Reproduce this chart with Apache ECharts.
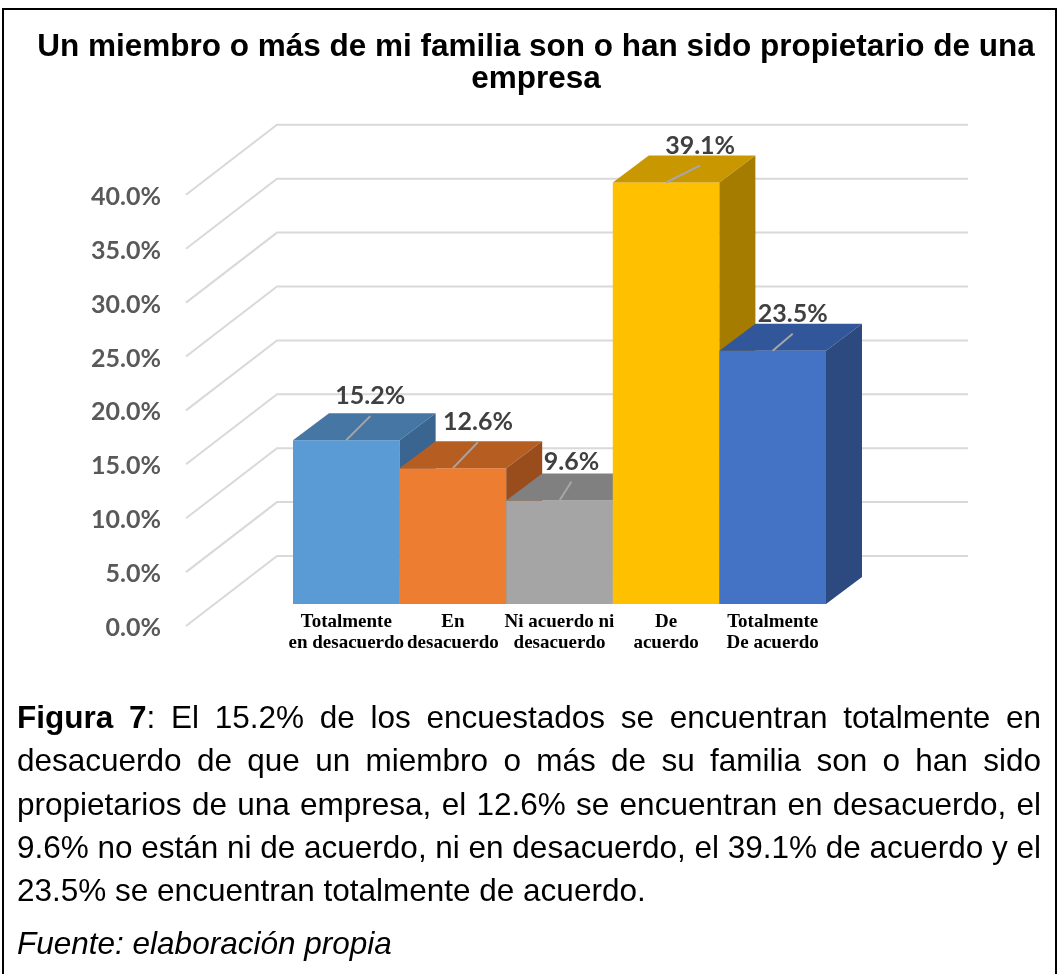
<!DOCTYPE html>
<html><head><meta charset="utf-8">
<script src="https://cdn.jsdelivr.net/npm/echarts@6/dist/echarts.min.js"></script>
<style>html,body{margin:0;padding:0;background:#fff}#c{width:1059px;height:974px}</style>
</head><body><div id="c"></div>
<script>
// ---- data ----
const categories = ['Totalmente\nen desacuerdo', 'En\ndesacuerdo', 'Ni acuerdo ni\ndesacuerdo', 'De\nacuerdo', 'Totalmente\nDe acuerdo'];
const values = [15.2, 12.6, 9.6, 39.1, 23.5];
const yTicks = [0, 5, 10, 15, 20, 25, 30, 35, 40];
const titleText = 'Un miembro o más de mi familia son o han sido propietario de una\nempresa';
const captionLines = [
  'Figura 7: El 15.2% de los encuestados se encuentran totalmente en',
  'desacuerdo de que un miembro o más de su familia son o han sido',
  'propietarios de una empresa, el 12.6% se encuentran en desacuerdo, el',
  '9.6% no están ni de acuerdo, ni en desacuerdo, el 39.1% de acuerdo y el',
  '23.5% se encuentran totalmente de acuerdo.'
];
const sourceText = 'Fuente: elaboración propia';

// ---- styles / layout ----
const frontColors = ['#5B9BD5', '#ED7D31', '#A5A5A5', '#FFC000', '#4472C4'];
const topColors   = ['#4676A4', '#B65E22', '#808080', '#C99700', '#31579A'];
const sideColors  = ['#3A6591', '#9A4D1C', '#6E6E6E', '#A67C00', '#2C4A80'];
const labelDx = [24, 25, 12, 34, 20];
const labelDy = [-44, -46, -39, -37, -37];
const DEPTH = [36, -27];
const LABEL_FONT = 'Lato';

const chart = echarts.init(document.getElementById('c'), null, {renderer: 'canvas'});

// caption graphics (justified text)
const mctx = document.createElement('canvas').getContext('2d');
function measure(t, font) { mctx.font = font; return mctx.measureText(t).width; }
const FS = 31.5;
const fNormal = FS + 'px "Liberation Sans"';
const fBold = 'bold ' + FS + 'px "Liberation Sans"';
const fItalic = 'italic ' + FS + 'px "Liberation Sans"';
const capLeft = 17, capRight = 1041;
const lineY = [719, 762, 806, 849, 892];
const graphics = [];
captionLines.forEach((line, li) => {
  const words = line.split(' ');
  const pieces = words.map((w, wi) => {
    if (li === 0 && wi === 0) return [{t: w, f: fBold}];
    if (li === 0 && wi === 1) return [{t: '7', f: fBold}, {t: ':', f: fNormal}];
    return [{t: w, f: fNormal}];
  });
  const widths = pieces.map(p => p.reduce((s, q) => s + measure(q.t, q.f), 0));
  const total = widths.reduce((a, b) => a + b, 0);
  const justify = li < captionLines.length - 1;
  const gap = justify ? (capRight - capLeft - total) / (words.length - 1) : measure(' ', fNormal);
  let x = capLeft;
  pieces.forEach((p, pi) => {
    let xx = x;
    p.forEach(q => {
      graphics.push({type: 'text', x: xx, y: lineY[li], silent: true,
        style: {text: q.t, font: q.f, fill: '#000', align: 'left', verticalAlign: 'middle'}});
      xx += measure(q.t, q.f);
    });
    x += widths[pi] + gap;
  });
});
graphics.push({type: 'text', x: capLeft, y: 945, style: {text: sourceText, font: fItalic, fill: '#000', align: 'left', verticalAlign: 'middle'}});
graphics.push({type: 'rect', shape: {x: 3, y: 9, width: 1053, height: 990}, style: {stroke: '#000', lineWidth: 2, fill: null}, silent: true});

const option = {
  animation: false,
  backgroundColor: '#fff',
  title: {
    text: titleText, left: 531, top: 26, textAlign: 'center',
    textStyle: {fontSize: 31.5, fontWeight: 'bold', fontFamily: 'Liberation Sans', lineHeight: 32, color: '#000'}
  },
  grid: [
    {left: 293, width: 533, top: 172.8, height: 431.2},
    {left: 186, width: 600, top: 196.8, height: 431.2}
  ],
  xAxis: [
    {type: 'category', gridIndex: 0, data: categories,
     axisLine: {show: false}, axisTick: {show: false}, splitLine: {show: false},
     axisLabel: {interval: 0, margin: 8, color: '#000', fontFamily: 'Liberation Serif', fontWeight: 'bold', fontSize: 19, lineHeight: 21}},
    {type: 'value', gridIndex: 1, show: false, min: 0, max: 1}
  ],
  yAxis: [
    {type: 'value', gridIndex: 0, min: 0, max: 40, interval: 5, show: false},
    {type: 'value', gridIndex: 1, min: 0, max: 40, interval: 5,
     axisLine: {show: false}, axisTick: {show: false}, splitLine: {show: false},
     axisLabel: {margin: 25, color: '#595959', fontFamily: LABEL_FONT, fontWeight: 'bold', fontSize: 25,
       formatter: v => v.toFixed(1) + '%'}}
  ],
  graphic: graphics,
  series: [
    {
      type: 'custom', xAxisIndex: 0, yAxisIndex: 0, z: 1, clip: false,
      data: yTicks.map(v => [0, v]),
      renderItem: (params, api) => {
        const y = api.coord([0, api.value(1)])[1];
        return {type: 'polyline', shape: {points: [[186, y + 22], [277, y - 48], [968, y - 48]]},
          style: {stroke: '#D9D9D9', lineWidth: 2, fill: null}};
      }
    },
    {
      type: 'custom', xAxisIndex: 0, yAxisIndex: 0, z: 2, clip: false,
      data: values.map((v, i) => [i, v]),
      renderItem: (params, api) => {
        const i = api.value(0), v = api.value(1);
        const top = api.coord([i, v]), base = api.coord([i, 0]);
        const bw = api.size([1, 0])[0];
        const x0 = top[0] - bw / 2, x1 = top[0] + bw / 2;
        const yt = top[1], yb = base[1], dx = DEPTH[0], dy = DEPTH[1];
        return {type: 'group', children: [
          {type: 'rect', z2: i * 3, shape: {x: x0, y: yt, width: bw, height: yb - yt}, style: {fill: frontColors[i]}},
          {type: 'polygon', z2: i * 3 + 1, shape: {points: [[x0, yt], [x1, yt], [x1 + dx, yt + dy], [x0 + dx, yt + dy]]}, style: {fill: topColors[i]}},
          {type: 'polygon', z2: i * 3 + 2, shape: {points: [[x1, yt], [x1 + dx, yt + dy], [x1 + dx, yb + dy], [x1, yb]]}, style: {fill: sideColors[i]}}
        ]};
      }
    },
    {
      type: 'custom', xAxisIndex: 0, yAxisIndex: 0, z: 3, clip: false,
      data: values.map((v, i) => [i, v]),
      renderItem: (params, api) => {
        const i = api.value(0), v = api.value(1);
        const top = api.coord([i, v]);
        const lx = top[0] + labelDx[i], ly = top[1] + labelDy[i];
        return {type: 'group', children: [
          {type: 'line', shape: {x1: top[0], y1: top[1], x2: lx, y2: ly + 20}, style: {stroke: '#A6A6A6', lineWidth: 2}},
          {type: 'text', x: lx, y: ly, style: {text: v.toFixed(1) + '%', font: 'bold 25px ' + LABEL_FONT, fill: '#404040', align: 'center', verticalAlign: 'middle'}}
        ]};
      }
    }
  ]
};
chart.setOption(option);
</script>
</body></html>
